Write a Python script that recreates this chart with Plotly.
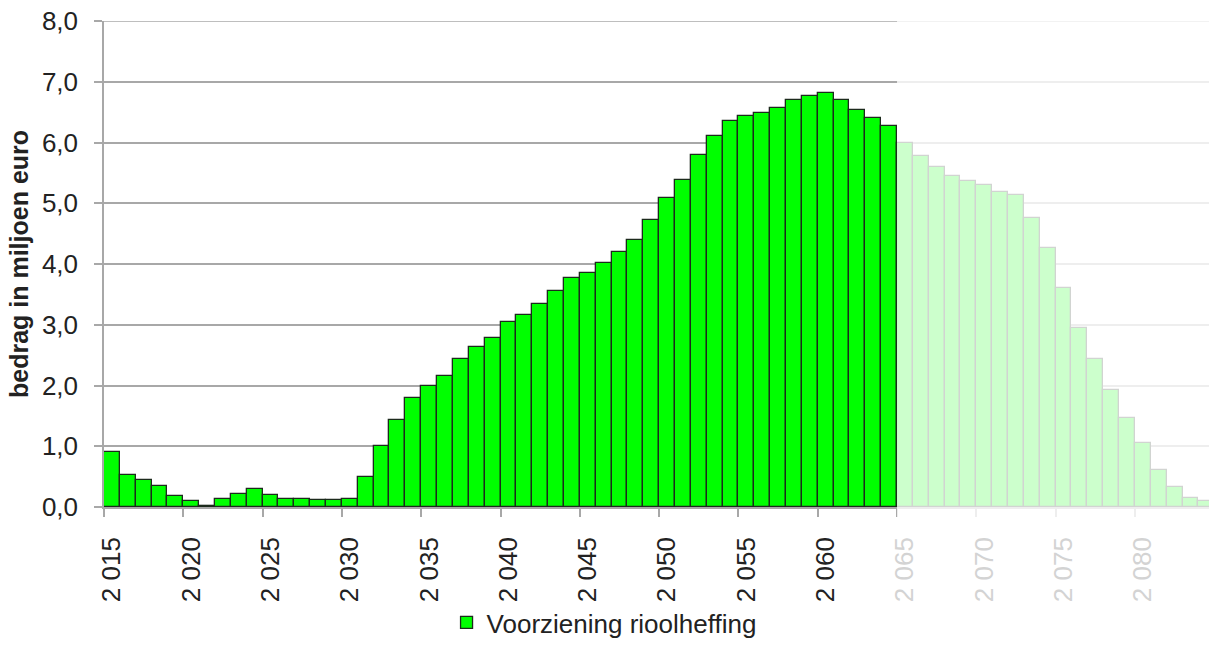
import plotly.graph_objects as go

# Jaarlijkse stand van de voorziening rioolheffing (miljoen euro)
years = list(range(2015, 2085))
values = [
    0.90, 0.52, 0.44, 0.34, 0.18, 0.10, 0.02, 0.13, 0.21, 0.29,
    0.19, 0.14, 0.14, 0.12, 0.12, 0.14, 0.50, 1.00, 1.43, 1.79,
    1.99, 2.16, 2.43, 2.64, 2.79, 3.04, 3.16, 3.34, 3.55, 3.77,
    3.86, 4.01, 4.20, 4.39, 4.72, 5.08, 5.39, 5.80, 6.11, 6.35,
    6.43, 6.48, 6.57, 6.70, 6.77, 6.82, 6.70, 6.53, 6.40, 6.27,
    6.00, 5.78, 5.60, 5.45, 5.37, 5.30, 5.18, 5.13, 4.75, 4.27,
    3.61, 2.94, 2.43, 1.92, 1.47, 1.06, 0.61, 0.33, 0.15, 0.10,
]
series_name = "Voorziening rioolheffing"

x_tick_years = list(range(2015, 2085, 5))
y_tick_vals = [0, 1, 2, 3, 4, 5, 6, 7, 8]
y_tick_text = ["0,0", "1,0", "2,0", "3,0", "4,0", "5,0", "6,0", "7,0", "8,0"]

first_faded_year = 2065
x_min, x_max = 2014.5, 2084.17
y_max = 8

FONT = "Liberation Sans, Arial, sans-serif"
GRID = "#a8a8a8"
TEXT = "#222222"
TEXT_FADED = "#d3d3d3"


def year_label(y):
    s = "2 0" + str(y)[2:]
    if y >= first_faded_year:
        return f'<span style="color:{TEXT_FADED}">{s}</span>'
    return s


x_tick_text = [year_label(y) for y in x_tick_years]

fig = go.Figure()
fig.add_trace(go.Bar(
    x=years,
    y=values,
    name=series_name,
    marker=dict(color="#00ff00", line=dict(color="#1c2a1c", width=1.3)),
    showlegend=True,
))

# Gridline at the top of the value axis
fig.add_shape(
    type="line", xref="paper", yref="y",
    x0=0, x1=1, y0=y_max, y1=y_max,
    line=dict(color=GRID, width=1.5), layer="below",
)

# Semi-transparent white veil over the later years
veil_x0 = (first_faded_year - 0.5 - x_min) / (x_max - x_min)
fig.add_shape(
    type="rect", xref="paper", yref="paper",
    x0=veil_x0, x1=1.02, y0=-0.03, y1=1.02,
    fillcolor="white", opacity=0.8, line=dict(width=0), layer="above",
)

fig.update_layout(
    width=1209, height=646,
    margin=dict(l=104, r=0, t=21, b=138),
    paper_bgcolor="white", plot_bgcolor="white",
    bargap=0,
    font=dict(family=FONT, size=25, color=TEXT),
    showlegend=True,
    legend=dict(
        x=0.31, y=-0.238, xanchor="left", yanchor="middle",
        orientation="h", font=dict(size=26, color=TEXT),
        bgcolor="rgba(0,0,0,0)",
    ),
)

fig.update_xaxes(
    range=[x_min, x_max],
    tickmode="array", tickvals=x_tick_years, ticktext=x_tick_text,
    tickangle=-90,
    ticks="outside", ticklen=8, tickcolor="rgba(0,0,0,0)",
    ticklabelstandoff=10,
    tickfont=dict(size=26, color=TEXT),
    minor=dict(ticks="outside", ticklen=8, tickcolor=GRID, tickwidth=1.5,
               tick0=2014.5, dtick=5, showgrid=False),
    showgrid=False, zeroline=False,
    showline=True, linecolor=GRID, linewidth=1.5,
)

fig.update_yaxes(
    range=[0, y_max],
    tickmode="array", tickvals=y_tick_vals, ticktext=y_tick_text,
    ticks="outside", ticklen=8, tickcolor=GRID, tickwidth=1.5,
    ticklabelstandoff=11,
    tickfont=dict(size=26, color=TEXT),
    showgrid=True, gridcolor=GRID, gridwidth=1.5,
    zeroline=False,
    showline=True, linecolor=GRID, linewidth=1.5,
    title=dict(text="bedrag in miljoen euro",
               font=dict(size=25, color=TEXT, weight="bold"),
               standoff=6),
)

fig.write_html("out.html")
